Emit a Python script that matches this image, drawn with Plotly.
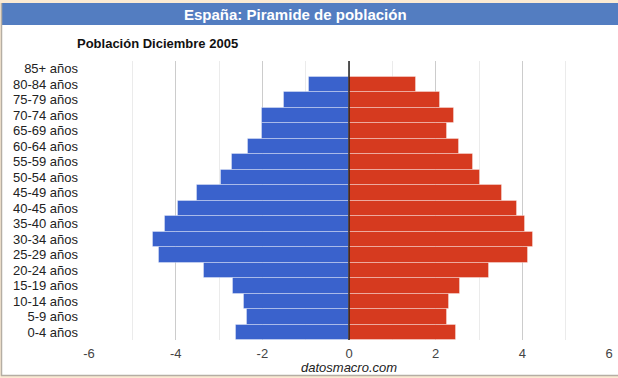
import plotly.graph_objects as go

categorias = ["85+ años", "80-84 años", "75-79 años", "70-74 años", "65-69 años",
              "60-64 años", "55-59 años", "50-54 años", "45-49 años", "40-45 años",
              "35-40 años", "30-34 años", "25-29 años", "20-24 años", "15-19 años",
              "10-14 años", "5-9 años", "0-4 años"]
hombres = [0, -0.93, -1.51, -2.0, -2.0, -2.34, -2.71, -2.96, -3.51, -3.95,
           -4.25, -4.53, -4.39, -3.35, -2.68, -2.43, -2.36, -2.61]
mujeres = [0, 1.54, 2.09, 2.42, 2.25, 2.54, 2.86, 3.02, 3.52, 3.87,
           4.05, 4.24, 4.12, 3.22, 2.55, 2.30, 2.25, 2.48]
x_ticks = [-6, -4, -2, 0, 2, 4, 6]

W, H = 618, 378
L, R, T, B = 89, 9, 61, 38
pw, ph = W - L - R, H - T - B

def px(x):
    return (x - L) / pw

def py(y):
    return (H - B - y) / ph

FONT = "Liberation Sans, Arial, sans-serif"

fig = go.Figure()
fig.add_trace(go.Bar(y=categorias, x=hombres, orientation="h", name="Hombres",
                     marker=dict(color="#3a62cc", line=dict(color="rgba(255,255,255,0.35)", width=1)),
                     hoverinfo="x+y"))
fig.add_trace(go.Bar(y=categorias, x=mujeres, orientation="h", name="Mujeres",
                     marker=dict(color="#d63a1f", line=dict(color="rgba(255,255,255,0.35)", width=1)),
                     hoverinfo="x+y"))

shapes = [
    dict(type="rect", xref="paper", yref="paper", x0=px(2), x1=px(W), y0=py(375), y1=py(3),
         fillcolor="white", line=dict(width=0), layer="below"),
    dict(type="rect", xref="paper", yref="paper", x0=px(2), x1=px(W), y0=py(25), y1=py(3),
         fillcolor="#537dc1", line=dict(width=0), layer="below"),
    dict(type="line", xref="paper", yref="paper", x0=px(1.5), x1=px(1.5), y0=py(376), y1=py(3),
         line=dict(color="#b5aea4", width=1.5), layer="below"),
    dict(type="line", xref="paper", yref="paper", x0=px(1), x1=px(W), y0=py(375.5), y1=py(375.5),
         line=dict(color="#b5aea4", width=1.5), layer="below"),
    dict(type="line", xref="x", yref="paper", x0=0, x1=0, y0=0, y1=1,
         line=dict(color="#222222", width=1.5), layer="above"),
]

annotations = [
    dict(text="<b>España: Piramide de población</b>", xref="paper", yref="paper",
         x=px(295), y=py(14), xanchor="center", yanchor="middle", showarrow=False,
         font=dict(family=FONT, size=15, color="white")),
    dict(text="<b>Población Diciembre 2005</b>", xref="paper", yref="paper",
         x=px(75), y=py(44), xanchor="left", yanchor="middle", showarrow=False,
         font=dict(family=FONT, size=13, color="#111111")),
    dict(text="<i>datosmacro.com</i>", xref="paper", yref="paper",
         x=px(349), y=py(367), xanchor="center", yanchor="middle", showarrow=False,
         font=dict(family=FONT, size=13, color="#222222")),
]

fig.update_layout(
    width=W, height=H,
    autosize=False,
    margin=dict(l=L, r=R, t=T, b=B, pad=0, autoexpand=False),
    paper_bgcolor="#fbead3",
    plot_bgcolor="white",
    barmode="relative",
    bargap=0,
    showlegend=False,
    font=dict(family=FONT, size=13, color="#333333"),
    shapes=shapes,
    annotations=annotations,
    xaxis=dict(range=[-6, 6], tickvals=x_ticks, ticktext=[str(v) for v in x_ticks],
               showgrid=True, gridcolor="#cccccc", gridwidth=1,
               minor=dict(dtick=1, tick0=0, showgrid=True, gridcolor="#ebebeb", gridwidth=1),
               zeroline=False, showline=False, ticks="", ticklabelstandoff=4,
               automargin=False,
               tickfont=dict(family=FONT, size=13, color="#444444"), fixedrange=True),
    yaxis=dict(categoryorder="array", categoryarray=categorias[::-1],
               tickmode="array", tickvals=categorias, ticktext=categorias,
               range=[-0.5, len(categorias) - 0.5], showgrid=False, zeroline=False,
               showline=False, ticks="", ticklabelstandoff=10, automargin=False,
               tickfont=dict(family=FONT, size=13, color="#222222"), fixedrange=True),
)

fig.write_html(
    "out.html",
    config={"displayModeBar": False, "responsive": False},
    post_script=(
        "document.body.style.margin='0px';"
        "document.body.style.overflow='hidden';"
        "document.documentElement.style.overflow='hidden';"
        "document.body.style.background='#fbead3';"
    ),
)
